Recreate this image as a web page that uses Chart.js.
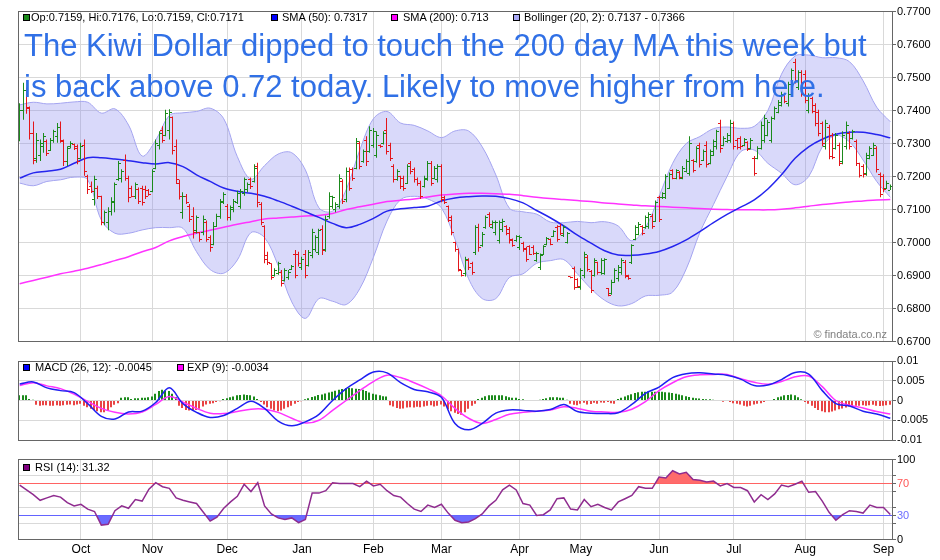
<!DOCTYPE html>
<html>
<head>
<meta charset="utf-8">
<title>NZD/USD daily</title>
<script src="https://cdn.jsdelivr.net/npm/chart.js@4.4.1/dist/chart.umd.min.js"></script>
<style>
html,body{margin:0;padding:0;background:#fff;}
#wrap{position:relative;width:940px;height:560px;overflow:hidden;background:#fff;font-family:"Liberation Sans",Arial,Helvetica,sans-serif;}
#wrap canvas{position:absolute;left:0;}
.sq{position:absolute;width:5px;height:5px;border:1px solid #000;}
.lt{position:absolute;font-size:11px;line-height:13px;color:#000;white-space:nowrap;}
#note{position:absolute;left:24px;top:25px;font-size:31px;line-height:41px;color:rgb(48,112,230);white-space:nowrap;}
#mark{position:absolute;left:687px;width:200px;top:328px;text-align:right;font-size:11px;line-height:12px;color:#808080;}
</style>
</head>
<body>
<div id="wrap">
<canvas id="cPrice" width="940" height="352" style="top:0"></canvas>
<canvas id="cMacd" width="940" height="98" style="top:352px"></canvas>
<canvas id="cRsi" width="940" height="110" style="top:450px"></canvas>
<div id="note">The Kiwi Dollar dipped to touch the 200 day MA this week but<br>is back above 0.72 today. Likely to move higher from here.</div>
<div id="mark">© findata.co.nz</div>
</div>
<script>
// ---------------- DATA ----------------
const monthNames = ['Oct','Nov','Dec','Jan','Feb','Mar','Apr','May','Jun','Jul','Aug','Sep'];
const monthIdx   = [18, 39, 61, 83, 104, 124, 147, 165, 188, 210, 231, 254]; // trading-day index of first day of month

// daily OHLC, in pips (0.0001)
const opens = [
7330,7400,7460,7410,7330,7255,7265,7290,7305,7280,
7310,7320,7350,7305,7245,7290,7298,7290,7255,7295,
7200,7170,7130,7165,7140,7060,7060,7095,7120,7190,
7195,7250,7195,7165,7140,7160,7165,7160,7158,7155,
7225,7295,7340,7325,7340,7380,7290,7180,7090,7140,
7110,7080,7035,7030,7030,7060,7015,6995,7050,7080,
7120,7110,7075,7100,7120,7110,7150,7160,7190,7185,
7230,7115,7050,6960,6935,6900,6905,6910,6885,6895,
6918,6965,6965,6925,6965,6930,6960,6980,6970,7040,
6980,7080,7110,7100,7110,7185,7130,7215,7220,7225,
7300,7245,7310,7275,7295,7265,7295,7300,7340,7295,
7230,7190,7200,7195,7180,7240,7220,7190,7180,7170,
7190,7240,7195,7190,7230,7135,7110,7075,7000,6978,
6915,6905,6945,6935,6970,7045,6990,7045,7085,7045,
7030,7005,7040,7048,7040,7008,7005,6985,6998,6982,
6988,6985,6945,6925,6965,6995,7008,7018,7045,7050,
7020,7000,6897,6920,6888,6865,6900,6955,6912,6900,
6938,6910,6905,6860,6845,6880,6890,6910,6940,6900,
6940,7010,7025,7048,7045,7050,7080,7065,7135,7135,
7135,7165,7218,7195,7212,7195,7215,7210,7248,7245,
7295,7250,7295,7240,7265,7290,7360,7295,7305,7310,
7360,7310,7315,7295,7302,7285,7255,7255,7285,7310,
7325,7310,7375,7395,7415,7448,7420,7450,7545,7470,
7515,7510,7400,7435,7415,7395,7360,7290,7350,7325,
7285,7295,7245,7290,7330,7315,7305,7238,7230,7210,
7255,7265,7285,7205,7200,7165,7159];
const highs = [
7422,7484,7470,7412,7367,7332,7312,7332,7312,7317,
7342,7362,7367,7312,7292,7307,7300,7297,7302,7312,
7205,7185,7202,7172,7142,7097,7107,7137,7182,7247,
7222,7267,7202,7172,7182,7167,7172,7172,7162,7222,
7312,7337,7352,7402,7404,7382,7312,7190,7152,7147,
7117,7107,7082,7032,7082,7067,7022,7062,7087,7132,
7152,7117,7112,7132,7157,7162,7197,7182,7197,7237,
7242,7122,7052,6972,6937,6922,6942,6917,6922,6917,
6932,6977,6972,6957,6977,6977,7042,7022,7042,7052,
7082,7152,7142,7122,7207,7192,7227,7227,7227,7317,
7307,7282,7322,7352,7347,7337,7297,7337,7377,7302,
7237,7222,7202,7202,7237,7247,7227,7197,7187,7202,
7247,7247,7232,7237,7237,7142,7112,7082,7002,6982,
6917,6957,6952,6942,7052,7057,7032,7082,7092,7067,
7067,7067,7072,7052,7047,7012,7022,7022,7002,6987,
6992,6992,6972,6967,6992,7017,7012,7037,7052,7057,
7052,7032,6897,6927,6892,6922,6972,6962,6917,6952,
6942,6952,6952,6862,6887,6922,6932,6952,6947,6902,
6995,7052,7062,7052,7082,7092,7087,7127,7142,7152,
7207,7212,7222,7222,7217,7232,7252,7322,7252,7292,
7302,7282,7307,7282,7312,7342,7372,7322,7332,7372,
7367,7317,7322,7317,7307,7317,7262,7292,7367,7387,
7372,7382,7412,7432,7457,7452,7487,7527,7557,7522,
7522,7522,7452,7442,7422,7402,7367,7372,7357,7332,
7332,7302,7337,7367,7337,7342,7312,7242,7237,7272,
7292,7302,7292,7212,7207,7187,7176];
const lows = [
7307,7372,7390,7312,7237,7242,7247,7272,7262,7277,
7302,7302,7302,7232,7232,7285,7280,7237,7252,7202,
7147,7150,7112,7132,7052,7052,7037,7082,7092,7187,
7182,7187,7122,7137,7132,7117,7112,7132,7142,7152,
7222,7282,7302,7322,7312,7267,7177,7130,7072,7117,
7062,7012,7027,7002,7022,7002,6972,6992,7047,7072,
7117,7067,7067,7092,7117,7102,7142,7152,7162,7182,
7107,7052,6937,6932,6887,6897,6902,6867,6882,6887,
6917,6892,6927,6917,6892,6927,6952,6972,6962,6962,
6972,7072,7102,7092,7102,7117,7122,7157,7187,7222,
7222,7242,7232,7272,7287,7257,7287,7297,7267,7247,
7182,7187,7162,7157,7177,7207,7182,7172,7132,7167,
7187,7172,7192,7182,7122,7117,7062,7022,6972,6912,
6897,6897,6917,6902,6962,6972,6987,7042,7047,7042,
7022,6997,7032,7022,6997,6987,7002,6977,6972,6942,
6962,6962,6942,6917,6962,6992,6992,7017,7002,7022,
7017,6997,6892,6857,6862,6857,6892,6912,6847,6897,
6902,6902,6902,6837,6842,6877,6882,6902,6892,6887,
6935,7007,7022,7022,7042,7042,7042,7062,7062,7132,
7132,7162,7192,7192,7192,7192,7212,7202,7212,7242,
7227,7247,7227,7237,7262,7282,7272,7292,7302,7302,
7282,7282,7282,7292,7277,7282,7202,7252,7282,7302,
7322,7302,7372,7392,7412,7422,7412,7442,7482,7462,
7442,7422,7392,7392,7352,7322,7292,7282,7252,7252,
7282,7232,7237,7282,7282,7312,7232,7197,7197,7202,
7252,7262,7212,7137,7152,7162,7159];
const closes = [
7400,7460,7405,7330,7250,7310,7300,7320,7270,7310,
7335,7350,7310,7245,7285,7300,7285,7245,7290,7215,
7160,7155,7190,7140,7060,7090,7095,7125,7175,7240,
7215,7195,7135,7140,7175,7125,7120,7140,7145,7215,
7300,7330,7310,7390,7395,7280,7190,7140,7140,7120,
7070,7030,7075,7010,7070,7010,6985,7050,7080,7125,
7145,7075,7105,7125,7150,7155,7190,7175,7170,7225,
7120,7060,6950,6940,6895,6915,6935,6875,6915,6910,
6928,6900,6935,6950,6900,6970,7030,7015,7035,6975,
7070,7140,7135,7115,7195,7125,7215,7165,7195,7305,
7230,7275,7245,7340,7335,7325,7290,7330,7275,7255,
7190,7215,7170,7165,7230,7215,7190,7178,7140,7195,
7240,7180,7225,7230,7130,7120,7068,7030,6978,6918,
6900,6950,6925,6910,7045,6985,7025,7075,7055,7062,
7060,7060,7065,7028,7005,6990,7018,7015,6978,6948,
6965,6968,6968,6960,6988,7012,6995,7032,7010,7028,
7045,7028,6893,6865,6868,6915,6965,6918,6855,6945,
6908,6945,6948,6840,6880,6915,6925,6945,6898,6890,
6990,7045,7055,7028,7075,7085,7048,7120,7070,7148,
7200,7205,7195,7218,7196,7225,7245,7300,7218,7285,
7235,7275,7235,7275,7305,7335,7285,7315,7325,7360,
7290,7288,7290,7312,7282,7310,7210,7285,7355,7375,
7365,7375,7405,7425,7450,7428,7480,7520,7490,7515,
7450,7430,7445,7398,7360,7330,7300,7360,7260,7258,
7325,7240,7325,7355,7290,7335,7240,7202,7205,7265,
7285,7295,7220,7145,7160,7180,7171];

// indicator lines, one value every LINE_STEP trading days
const LINE_STEP = 4;
const sma50 = [
0.7195,0.7211,0.7216,0.7222,0.7240,0.7257,0.7257,0.7253,0.7248,0.7242,
0.7238,0.7242,0.7230,0.7205,0.7185,0.7165,0.7155,0.7149,0.7140,0.7126,
0.7110,0.7093,0.7076,0.7058,0.7045,0.7055,0.7073,0.7095,0.7102,0.7106,
0.7110,0.7126,0.7135,0.7139,0.7141,0.7140,0.7133,0.7120,0.7097,0.7075,
0.7050,0.7022,0.6998,0.6975,0.6962,0.6961,0.6965,0.6973,0.6988,0.7008,
0.7033,0.7060,0.7085,0.7107,0.7129,0.7162,0.7205,0.7255,0.7290,0.7313,
0.7328,0.7334,0.7334,0.7327,0.7317];
const sma200 = [
0.6875,0.6885,0.6895,0.6905,0.6913,0.6922,0.6933,0.6945,0.6957,0.6972,
0.6985,0.7005,0.7018,0.7028,0.7037,0.7046,0.7055,0.7063,0.7071,0.7074,
0.7077,0.7080,0.7082,0.7088,0.7100,0.7108,0.7116,0.7124,0.7128,0.7132,
0.7138,0.7144,0.7147,0.7149,0.7149,0.7148,0.7146,0.7142,0.7137,0.7133,
0.7130,0.7127,0.7124,0.7120,0.7117,0.7114,0.7111,0.7109,0.7107,0.7105,
0.7103,0.7101,0.7100,0.7099,0.7099,0.7099,0.7101,0.7105,0.7110,0.7115,
0.7119,0.7123,0.7126,0.7129,0.7130];
const bbUpper = [
0.7417,0.7425,0.7420,0.7422,0.7426,0.7425,0.7392,0.7405,0.7356,0.7262,
0.7310,0.7385,0.7393,0.7397,0.7407,0.7375,0.7260,0.7192,0.7233,0.7268,
0.7272,0.7220,0.7105,0.7095,0.7160,0.7280,0.7375,0.7397,0.7362,0.7355,
0.7338,0.7318,0.7338,0.7338,0.7290,0.7205,0.7104,0.7093,0.7086,0.7062,
0.7060,0.7064,0.7060,0.7063,0.7050,0.7005,0.7045,0.7140,0.7240,0.7300,
0.7321,0.7345,0.7350,0.7346,0.7352,0.7400,0.7510,0.7565,0.7568,0.7560,
0.7560,0.7548,0.7490,0.7410,0.7366];
const bbLower = [
0.7180,0.7172,0.7185,0.7190,0.7198,0.7190,0.7068,0.7028,0.7028,0.7038,
0.7045,0.7045,0.7043,0.6972,0.6918,0.6907,0.6947,0.7030,0.7015,0.6930,
0.6820,0.6770,0.6830,0.6822,0.6812,0.6860,0.6955,0.7065,0.7130,0.7140,
0.7132,0.7105,0.7010,0.6890,0.6830,0.6830,0.6894,0.6905,0.6937,0.6945,
0.6948,0.6905,0.6860,0.6825,0.6808,0.6815,0.6838,0.6840,0.6850,0.6920,
0.7030,0.7115,0.7200,0.7275,0.7280,0.7240,0.7210,0.7175,0.7200,0.7290,
0.7325,0.7305,0.7250,0.7185,0.7137];
const macdLine = [
0.0042,0.0047,0.0032,0.0025,0.0020,-0.0008,-0.0040,-0.0047,-0.0029,-0.0027,
-0.0005,0.0032,-0.0008,-0.0030,-0.0043,-0.0038,-0.0020,-0.0002,-0.0020,-0.0052,
-0.0064,-0.0054,-0.0035,0.0000,0.0030,0.0052,0.0072,0.0070,0.0045,0.0028,
0.0022,0.0008,-0.0058,-0.0074,-0.0058,-0.0032,-0.0024,-0.0025,-0.0027,-0.0023,
-0.0010,-0.0028,-0.0032,-0.0033,-0.0031,-0.0010,0.0018,0.0034,0.0058,0.0068,
0.0070,0.0067,0.0064,0.0054,0.0038,0.0039,0.0053,0.0071,0.0067,0.0025,
-0.0008,-0.0014,-0.0027,-0.0034,-0.0045];
const expLine = [
0.0038,0.0045,0.0037,0.0030,0.0016,-0.0002,-0.0020,-0.0030,-0.0034,-0.0029,
-0.0010,0.0010,-0.0004,-0.0020,-0.0032,-0.0033,-0.0028,-0.0022,-0.0022,-0.0030,
-0.0045,-0.0057,-0.0050,-0.0025,0.0000,0.0025,0.0048,0.0064,0.0058,0.0045,
0.0030,0.0012,-0.0020,-0.0045,-0.0058,-0.0048,-0.0035,-0.0030,-0.0027,-0.0024,
-0.0016,-0.0020,-0.0027,-0.0029,-0.0030,-0.0022,-0.0003,0.0025,0.0045,0.0060,
0.0065,0.0066,0.0066,0.0055,0.0046,0.0041,0.0048,0.0060,0.0062,0.0035,
0.0000,-0.0012,-0.0019,-0.0028,-0.0034];
// MACD histogram, one per trading day, in units of 0.0001
const macdHist = [
13,13,13,4,2,-11,-13,-12,-12,-13,
-13,-12,-13,-12,-11,-10,-12,-10,-8,-13,
-17,-21,-24,-27,-30,-30,-25,-17,-11,-7,
7,8,8,4,6,6,7,7,8,10,
17,24,27,25,24,17,8,-13,-19,-24,
-25,-25,-24,-21,-15,-10,-8,-7,-4,-2,
4,6,8,10,13,14,15,14,13,10,
4,-4,-10,-17,-21,-25,-27,-25,-21,-17,
-13,-8,-4,-2,3,6,9,11,14,15,
18,20,22,25,27,29,31,32,31,30,
29,27,24,20,17,15,13,11,10,-12,
-15,-19,-21,-20,-18,-17,-18,-16,-17,-15,
-13,-12,-15,-13,-10,-15,-22,-27,-31,-34,
-36,-30,-21,-13,-8,4,7,11,13,13,
13,13,13,11,8,7,7,4,3,1,
0,0,1,2,4,6,8,8,8,7,
7,2,-8,-11,-12,-8,-6,-10,-9,-6,
-8,-5,-6,-4,-7,-8,4,7,10,13,
16,19,21,22,22,23,22,22,22,22,
21,20,19,17,15,13,11,9,7,6,
5,4,3,3,2,0,0,-3,0,-4,
-7,-8,-10,-13,-15,-13,-10,-8,-7,-4,
0,0,4,8,10,13,14,15,13,8,
3,-4,-8,-13,-19,-24,-27,-30,-30,-28,
-25,-22,-20,-18,-15,-15,-13,-13,-12,-13,
-12,-11,-13,-14,-13,-12,-11];
// RSI(14), one value every RSI_STEP trading days
const RSI_STEP = 2;
const rsi14 = [
68,62,56,49,52,55,53,46,42,44,
38,35,18,19,36,42,39,50,48,63,
71,66,64,52,49,47,45,34,23,28,
39,47,54,69,60,71,42,32,27,25,
27,21,25,58,58,61,71,70,70,70,
66,73,67,69,61,55,53,45,38,35,
43,40,44,33,24,21,22,26,32,42,
49,62,68,62,45,43,30,31,37,51,
52,38,37,50,41,44,40,37,47,51,
55,66,64,64,78,77,86,82,84,75,
74,72,73,67,70,65,65,61,47,56,
50,57,68,66,69,73,59,60,48,34,
24,31,36,35,33,43,40,40,31.32];

const priceTicks = [0.67,0.68,0.69,0.70,0.71,0.72,0.73,0.74,0.75,0.76,0.77];
const macdTicks  = [-0.01,-0.005,0,0.005,0.01];
const rsiTicks   = [0,20,30,40,60,70,80,100];
const rsiLabelled = [0,30,70,100];

// ---------------- STYLE ----------------
const FONT = '"Liberation Sans", Arial, Helvetica, sans-serif';
const GRID = '#d9d9d9', AXIS = '#666666';
const UP = '#1b8a1b', DOWN = '#e3161b';
const SMA50_C = '#2525ee', SMA200_C = '#ff33ff';
const BB_EDGE = '#a4a4f0', BB_FILL = 'rgba(140,140,240,0.33)';
const MACD_C = '#1f1ff2', EXP_C = '#ff33ff';
const HUP = '#1b8a1b', HDN = '#e84444';
const RSI_C = '#8f2c8f';

Chart.defaults.font.family = FONT;
Chart.defaults.color = '#000';

// ---------------- BUILD ----------------
const N = closes.length;
const P = v => v / 10000;
const barIdx = closes.map((_, i) => i);
const lineIdx = sma50.map((_, k) => k * LINE_STEP);
const rsiIdx = rsi14.map((_, k) => k * RSI_STEP);
const pts = (xs, ys) => ys.map((y, k) => ({ x: xs[k], y }));
const isUp = i => closes[i] >= opens[i];

function tickImg(color, side) {
  const c = document.createElement('canvas');
  c.width = 5; c.height = 1;
  const g = c.getContext('2d');
  g.fillStyle = color;
  g.fillRect(side === 'L' ? 0 : 3, 0, 2, 1);
  return c;
}
const openUp = tickImg(UP, 'L'), openDn = tickImg(DOWN, 'L');
const closeUp = tickImg(UP, 'R'), closeDn = tickImg(DOWN, 'R');

function xScale(showLabels) {
  return {
    type: 'linear', min: -0.5, max: N - 0.5, bounds: 'data', offset: false,
    afterBuildTicks: s => { s.ticks = monthIdx.map(v => ({ value: v })); },
    afterFit: s => { s.height = showLabels ? 20.5 : 0; },
    grid: { color: GRID, drawTicks: false, offset: false },
    border: { display: false },
    ticks: { display: showLabels, autoSkip: false, maxRotation: 0, padding: 3, color: '#000',
      font: { size: 12, family: FONT }, callback: (v, i) => monthNames[i] }
  };
}
function yScale(min, max, tickVals, fmt, colorFn) {
  return {
    type: 'linear', position: 'right', min, max, bounds: 'data',
    afterBuildTicks: s => { s.ticks = tickVals.map(v => ({ value: v })); },
    afterFit: s => { s.width = 48; },
    grid: { color: colorFn ? (c => colorFn(c.tick.value, true)) : GRID, tickColor: AXIS, tickLength: 4 },
    border: { color: AXIS },
    ticks: { padding: 1, autoSkip: false, font: { size: 11, family: FONT }, callback: fmt,
      color: colorFn ? (c => colorFn(c.tick.value, false)) : '#000' }
  };
}

// snap OHLC marks to whole device pixels so the 1px bars stay crisp
const snapPlugin = {
  id: 'snap',
  beforeDatasetsDraw(chart) {
    chart.ctx.imageSmoothingEnabled = false;
    chart.data.datasets.forEach((ds, di) => {
      if (!ds.snap) return;
      chart.getDatasetMeta(di).data.forEach(el => {
        el.x = Math.floor(el.x) + (ds.snap === 'even' ? 0 : 0.5);
        if (ds.snap === 'point') el.y = Math.floor(el.y) + 0.5;
      });
    });
  }
};
const framePlugin = {
  id: 'frame',
  afterDatasetsDraw(chart) {
    const { ctx, chartArea: a } = chart;
    ctx.save();
    ctx.strokeStyle = AXIS; ctx.lineWidth = 1;
    const l = Math.floor(a.left) + 0.5, t = Math.floor(a.top) + 0.5;
    const r = Math.floor(a.right) + 0.5, b = Math.floor(a.bottom) + 0.5;
    ctx.strokeRect(l, t, r - l, b - t);
    ctx.restore();
  }
};

const baseOpts = (padding) => ({
  responsive: false, animation: false, events: [], devicePixelRatio: 1,
  layout: { padding },
  plugins: { legend: { display: false }, tooltip: { enabled: false }, filler: { drawTime: 'beforeDatasetsDraw' } }
});

// ---- price panel
const priceOpts = baseOpts({ left: 18, right: 0, top: 11.5, bottom: 10.5 });
priceOpts.scales = { x: xScale(false), y: yScale(0.67, 0.77, priceTicks, v => v.toFixed(4)) };
new Chart(document.getElementById('cPrice'), {
  type: 'line',
  data: { datasets: [
    { type: 'line', data: pts(lineIdx, bbUpper), borderColor: BB_EDGE, borderWidth: 1, pointRadius: 0,
      tension: 0.35, fill: '+1', backgroundColor: BB_FILL, order: 10 },
    { type: 'line', data: pts(lineIdx, bbLower), borderColor: BB_EDGE, borderWidth: 1, pointRadius: 0,
      tension: 0.35, fill: false, order: 9 },
    { type: 'line', data: pts(lineIdx, sma200), borderColor: SMA200_C, borderWidth: 1.5, pointRadius: 0,
      tension: 0.35, fill: false, order: 8 },
    { type: 'line', data: pts(lineIdx, sma50), borderColor: SMA50_C, borderWidth: 1.5, pointRadius: 0,
      tension: 0.35, fill: false, order: 7 },
    { type: 'bar', snap: 'bar', data: barIdx.map(i => ({ x: i, y: [P(lows[i]), P(highs[i])] })),
      backgroundColor: barIdx.map(i => isUp(i) ? UP : DOWN), barThickness: 1, grouped: false,
      inflateAmount: 0, borderWidth: 0, order: 3 },
    { type: 'line', snap: 'point', showLine: false, data: barIdx.map(i => ({ x: i, y: P(opens[i]) })),
      pointStyle: barIdx.map(i => isUp(i) ? openUp : openDn), pointRadius: 1, order: 2 },
    { type: 'line', snap: 'point', showLine: false, data: barIdx.map(i => ({ x: i, y: P(closes[i]) })),
      pointStyle: barIdx.map(i => isUp(i) ? closeUp : closeDn), pointRadius: 1, order: 1 }
  ] },
  options: priceOpts,
  plugins: [snapPlugin, framePlugin]
});

// ---- MACD panel
const macdOpts = baseOpts({ left: 18, right: 0, top: 9, bottom: 10 });
macdOpts.scales = { x: xScale(false), y: yScale(-0.01, 0.01, macdTicks, v => String(parseFloat(v.toFixed(3)))) };
new Chart(document.getElementById('cMacd'), {
  type: 'line',
  data: { datasets: [
    { type: 'line', data: pts(lineIdx, macdLine), borderColor: MACD_C, borderWidth: 1.5, pointRadius: 0, tension: 0.35, order: 1 },
    { type: 'line', data: pts(lineIdx, expLine), borderColor: EXP_C, borderWidth: 1.5, pointRadius: 0, tension: 0.35, order: 2 },
    { type: 'bar', snap: 'even', data: barIdx.map(i => ({ x: i, y: macdHist[i] / 10000 })),
      backgroundColor: macdHist.map(v => v >= 0 ? HUP : HDN), barThickness: 2, grouped: false,
      inflateAmount: 0, borderWidth: 0, order: 3 }
  ] },
  options: macdOpts,
  plugins: [snapPlugin, framePlugin]
});

// ---- RSI panel
const rsiColor = (v, isGrid) => v === 70 ? (isGrid ? '#ff6060' : '#ff5555') : v === 30 ? (isGrid ? '#6060ff' : '#6b6bff') : (isGrid ? GRID : '#000');
const rsiOpts = baseOpts({ left: 18, right: 0, top: 9.5, bottom: 0 });
rsiOpts.scales = { x: xScale(true), y: yScale(0, 100, rsiTicks, v => rsiLabelled.includes(v) ? String(v) : '', rsiColor) };
new Chart(document.getElementById('cRsi'), {
  type: 'line',
  data: { datasets: [
    { type: 'line', data: pts(rsiIdx, rsi14), borderColor: RSI_C, borderWidth: 1.5, pointRadius: 0, tension: 0,
      fill: { target: { value: 70 }, above: '#ff6b6b', below: 'rgba(0,0,0,0)' }, order: 1 },
    { type: 'line', data: pts(rsiIdx, rsi14), borderColor: 'rgba(0,0,0,0)', borderWidth: 0, pointRadius: 0, tension: 0,
      fill: { target: { value: 30 }, above: 'rgba(0,0,0,0)', below: '#6b6bff' }, order: 2 }
  ] },
  options: rsiOpts,
  plugins: [framePlugin]
});

// ---------------- LEGENDS (real text, values from the data) ----------------
const fmt = v => String(parseFloat(v.toFixed(4)));
const last = a => a[a.length - 1];
const wrap = document.getElementById('wrap');
function legend(sqLeft, textLeft, centerY, color, text) {
  const s = document.createElement('div');
  s.className = 'sq'; s.style.left = sqLeft + 'px'; s.style.top = (centerY - 3.5) + 'px'; s.style.background = color;
  const t = document.createElement('div');
  t.className = 'lt'; t.style.left = textLeft + 'px'; t.style.top = (centerY - 6.5) + 'px'; t.textContent = text;
  wrap.appendChild(s); wrap.appendChild(t);
}
const L = N - 1;
legend(23, 31, 17, UP, `Op:${fmt(P(opens[L]))}, Hi:${fmt(P(highs[L]))}, Lo:${fmt(P(lows[L]))}, Cl:${fmt(P(closes[L]))}`);
legend(271, 282, 17, '#0000ff', `SMA (50): ${fmt(last(sma50))}`);
legend(391, 403, 17, '#ff00ff', `SMA (200): ${fmt(last(sma200))}`);
legend(513, 524, 17, '#a8a8f5', `Bollinger (20, 2): ${fmt(last(bbLower))} - ${fmt(last(bbUpper))}`);
legend(23, 35, 367, '#0000ff', `MACD (26, 12): ${fmt(last(macdLine))}`);
legend(177, 187, 367, '#ff00ff', `EXP (9): ${fmt(last(expLine))}`);
legend(23, 35, 467, '#800080', `RSI (14): ${fmt(last(rsi14))}`);
</script>
</body>
</html>
